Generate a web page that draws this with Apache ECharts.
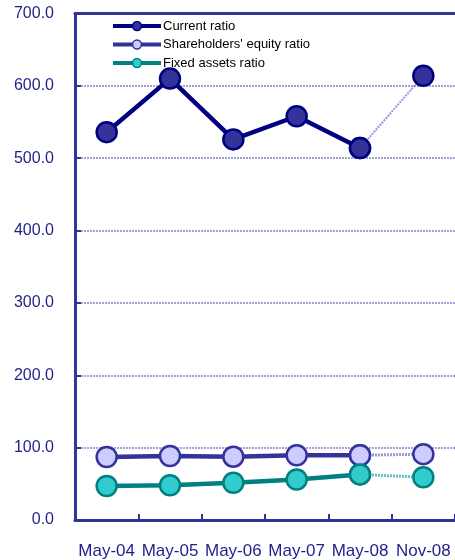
<!DOCTYPE html>
<html>
<head>
<meta charset="utf-8">
<script src="https://cdn.jsdelivr.net/npm/echarts@6/dist/echarts.min.js"></script>
<style>
html,body{margin:0;padding:0;background:#fff;}
#c{width:455px;height:560px;}
</style>
</head>
<body>
<div id="c"></div>
<script>
const categories = ['May-04','May-05','May-06','May-07','May-08','Nov-08'];
const currentRatio = [536, 610, 526, 558, 514, 614];
const equityRatio = [87, 88.5, 87.5, 89.5, 89.5, 91];
const fixedAssetsRatio = [47, 48, 51.5, 56, 63, 59];
const yTicks = [0, 100, 200, 300, 400, 500, 600, 700];

const FONT = 'Liberation Sans, Arial, sans-serif';
const LAST_SOLID = 4;
const solid = arr => arr.map((v, i) => i <= LAST_SOLID ? v : '-');
const dotted = arr => arr.map((v, i) => i >= LAST_SOLID ? v : '-');

const styles = [
  {name: 'Current ratio', data: currentRatio, line: '#000080', fill: '#333399', border: '#000080', dot: 'rgba(110,110,200,0.7)'},
  {name: "Shareholders' equity ratio", data: equityRatio, line: '#333399', fill: '#ccccff', border: '#333399', dot: 'rgba(120,120,210,0.75)'},
  {name: 'Fixed assets ratio', data: fixedAssetsRatio, line: '#008080', fill: '#33cccc', border: '#008080', dot: 'rgba(60,170,170,0.75)'}
];

const series = [];
styles.forEach((s, k) => {
  series.push({
    name: s.name + ' (est.)', type: 'line', data: dotted(s.data), z: 2,
    symbol: 'circle', symbolSize: 20, showAllSymbol: true,
    lineStyle: {color: s.dot, width: k === 0 ? 2 : 3, type: [2, 1]},
    itemStyle: {color: s.fill, borderColor: s.border, borderWidth: 2.5},
    emphasis: {disabled: true}, animation: false
  });
});
styles.forEach((s, k) => {
  series.push({
    name: s.name, type: 'line', data: solid(s.data), z: 3,
    symbol: 'circle', symbolSize: 20, showAllSymbol: true,
    lineStyle: {color: s.line, width: 4.5},
    itemStyle: {color: s.fill, borderColor: s.border, borderWidth: 2.5},
    emphasis: {disabled: true}, animation: false
  });
});

const chart = echarts.init(document.getElementById('c'), null, {renderer: 'canvas'});
chart.setOption({
  backgroundColor: '#ffffff',
  animation: false,
  textStyle: {fontFamily: FONT},
  grid: {left: 75, top: 13.5, width: 382, height: 508, containLabel: false},
  legend: {
    data: styles.map(s => s.name),
    orient: 'vertical', left: 111, top: 19.5, padding: 0,
    itemWidth: 48, itemHeight: 11, itemGap: 5.5,
    lineStyle: {width: 4},
    itemStyle: {borderWidth: 1.5},
    textStyle: {fontFamily: FONT, fontSize: 13, color: '#000000', padding: [0, 0, 0, -3]},
    selectedMode: false
  },
  xAxis: [{
    type: 'category', data: categories, boundaryGap: true, position: 'bottom',
    axisLine: {lineStyle: {color: '#333399', width: 3}},
    axisTick: {show: true, inside: true, length: 6, interval: 0, lineStyle: {color: '#333399', width: 2}},
    axisLabel: {color: '#1f1f8c', fontSize: 17, fontFamily: FONT, margin: 23, interval: 0},
    splitLine: {show: false}
  }, {
    type: 'category', data: categories, position: 'top',
    axisLine: {lineStyle: {color: '#333399', width: 3}},
    axisTick: {show: false}, axisLabel: {show: false}, splitLine: {show: false}
  }],
  yAxis: {
    type: 'value', min: yTicks[0], max: yTicks[yTicks.length - 1], interval: 100,
    axisLine: {show: true, lineStyle: {color: '#333399', width: 3}},
    axisTick: {show: true, inside: true, length: 6, lineStyle: {color: '#333399', width: 2}},
    axisLabel: {color: '#1f1f8c', fontSize: 16, fontFamily: FONT, margin: 21, formatter: v => v.toFixed(1)},
    splitLine: {show: true, lineStyle: {color: '#a3a3d6', width: 2, type: [2, 1]}}
  },
  series: series
});
</script>
</body>
</html>
